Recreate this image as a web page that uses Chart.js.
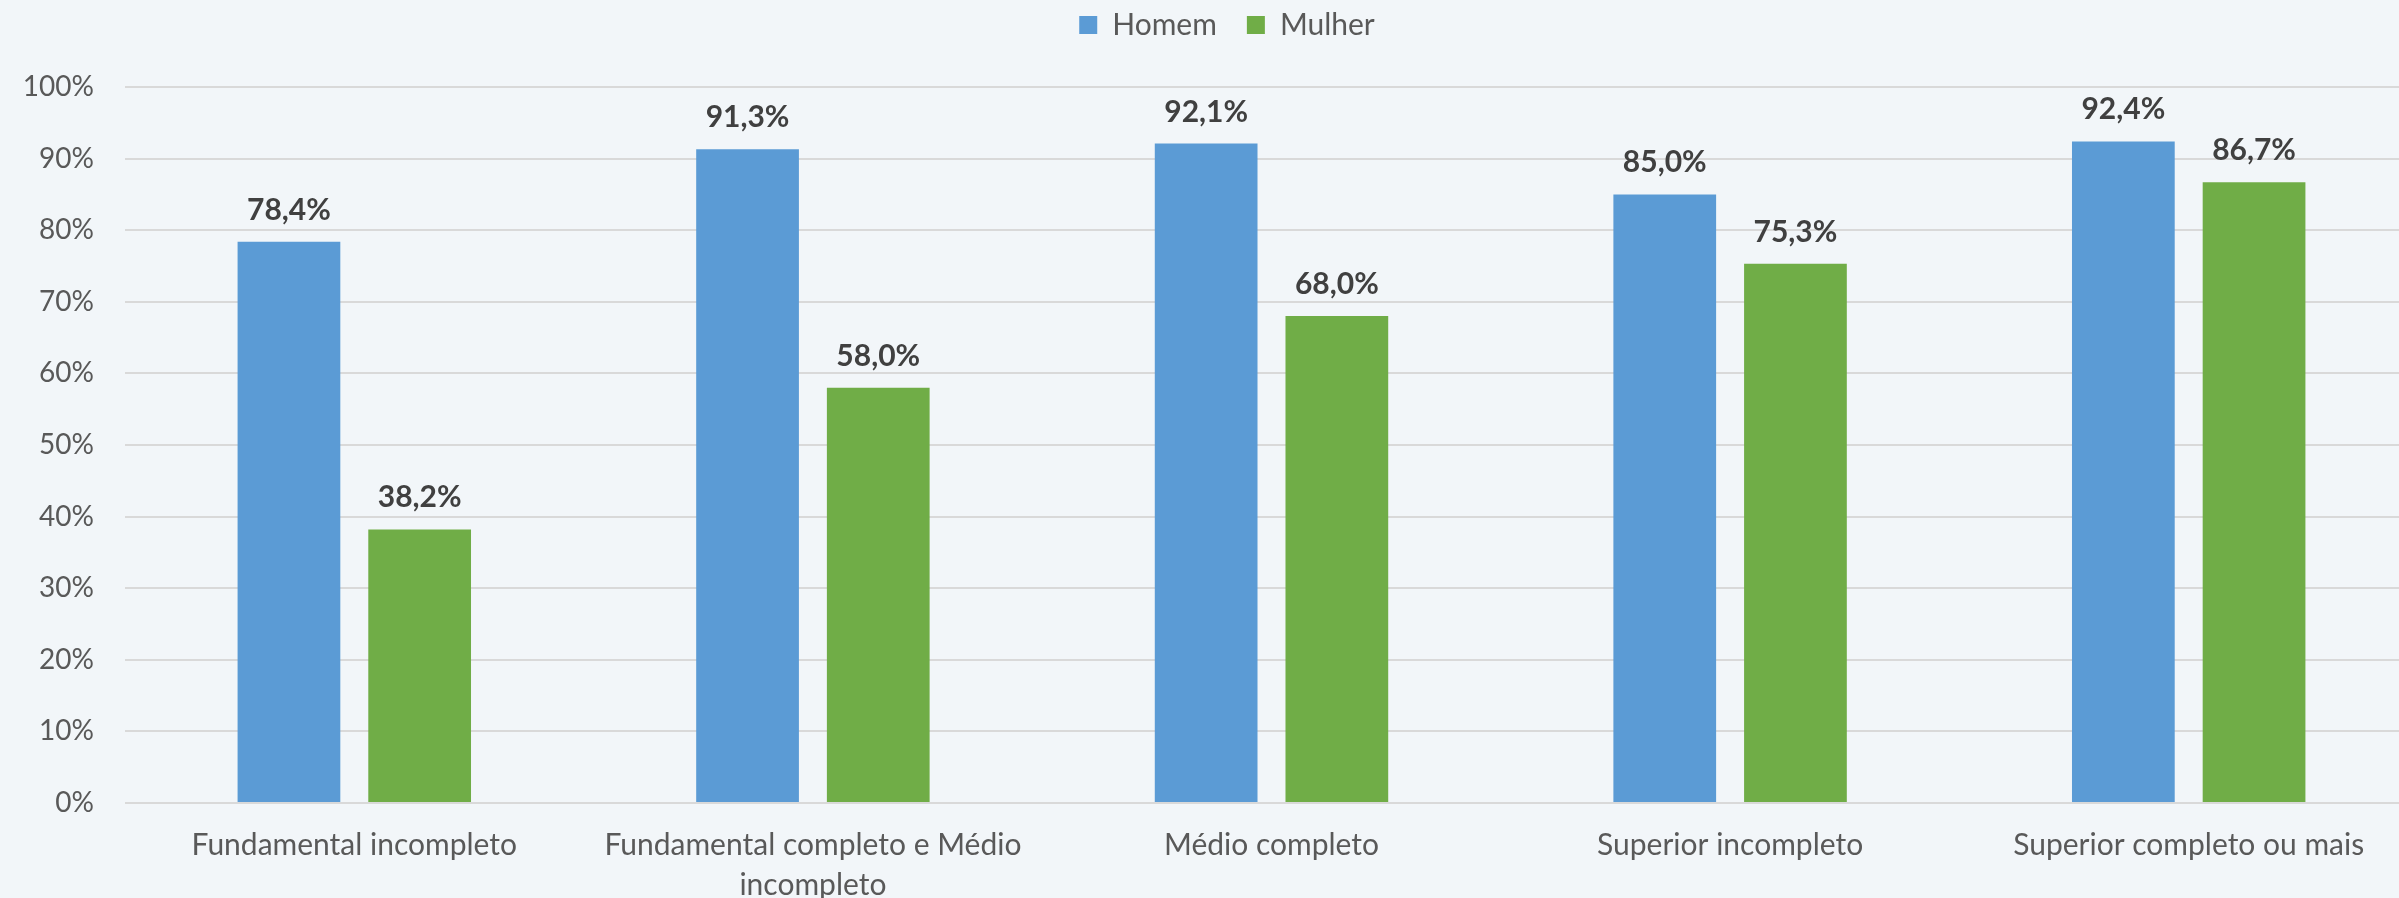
<!DOCTYPE html>
<html>
<head>
<meta charset="utf-8">
<script src="https://cdn.jsdelivr.net/npm/chart.js@4/dist/chart.umd.min.js"></script>
<style>
    html, body { margin: 0; padding: 0; background: #f2f6f9; overflow: hidden; }
    #wrap { width: 2420px; height: 898px; }
</style>
</head>
<body>
<div id="wrap"><canvas id="escolaridadeChart"></canvas></div>
<script>
var categories = [
    'Fundamental incompleto',
    ['Fundamental completo e Médio', 'incompleto'],
    'Médio completo',
    'Superior incompleto',
    'Superior completo ou mais'
];
var homemValues = [78.4, 91.3, 92.1, 85.0, 92.4];
var mulherValues = [38.2, 58.0, 68.0, 75.3, 86.7];
var yTicks = [0, 10, 20, 30, 40, 50, 60, 70, 80, 90, 100];

var fontFamily = 'Lato, "Noto Sans", sans-serif';

function formatPct(v) {
    return v.toFixed(1).replace('.', ',') + '%';
}

// rótulos acima das barras
var barLabels = {
    id: 'barLabels',
    afterDatasetsDraw: function (chart) {
        var ctx = chart.ctx;
        ctx.save();
        ctx.font = 'bold 30px ' + fontFamily;
        ctx.fillStyle = '#404040';
        ctx.textAlign = 'center';
        ctx.textBaseline = 'alphabetic';
        chart.data.datasets.forEach(function (ds, i) {
            var meta = chart.getDatasetMeta(i);
            meta.data.forEach(function (bar, j) {
                ctx.fillText(formatPct(ds.data[j]), bar.x, bar.y - 22);
            });
        });
        ctx.restore();
    }
};

// espaço entre a legenda e o gráfico, e legenda um pouco à direita
var legendSpace = {
    id: 'legendSpace',
    beforeInit: function (chart) {
        var fit = chart.legend.fit;
        chart.legend.fit = function () {
            fit.bind(chart.legend)();
            this.height = 107;
        };
    },
    afterLayout: function (chart) {
        chart.legend.left += 36;
    }
};

var ctx1 = document.getElementById('escolaridadeChart').getContext('2d');
var escolaridadeChart = new Chart(ctx1, {
    type: 'bar',
    data: {
        labels: categories,
        datasets: [{
            label: 'Homem',
            data: homemValues,
            backgroundColor: '#5b9bd5'
        }, {
            label: 'Mulher',
            data: mulherValues,
            backgroundColor: '#70ad47'
        }]
    },
    options: {
        responsive: true,
        maintainAspectRatio: false,
        animation: false,
        layout: {
            padding: { left: 0, right: 2, top: -20, bottom: 0 }
        },
        categoryPercentage: 0.57,
        barPercentage: 0.786,
        plugins: {
            legend: {
                position: 'top',
                labels: {
                    boxWidth: 18,
                    boxHeight: 18,
                    padding: 30,
                    color: '#595959',
                    font: { family: fontFamily, size: 30 }
                }
            },
            tooltip: { enabled: false }
        },
        scales: {
            y: {
                min: 0,
                max: 100,
                afterBuildTicks: function (axis) {
                    axis.ticks = yTicks.map(function (v) { return { value: v }; });
                },
                afterFit: function (scale) {
                    scale.width = 125;
                },
                border: { display: false },
                grid: { color: '#d9d9d9', lineWidth: 2, drawTicks: false },
                ticks: {
                    padding: 31,
                    color: '#595959',
                    font: { family: fontFamily, size: 28 },
                    callback: function (v) { return v + '%'; }
                }
            },
            x: {
                afterFit: function (scale) {
                    scale.height = 95;
                },
                border: { display: false },
                grid: { display: false, drawTicks: false },
                ticks: {
                    padding: 22,
                    maxRotation: 0,
                    autoSkip: false,
                    color: '#595959',
                    font: { family: fontFamily, size: 30, lineHeight: 1.33 }
                }
            }
        }
    },
    plugins: [barLabels, legendSpace]
});
</script>
</body>
</html>
